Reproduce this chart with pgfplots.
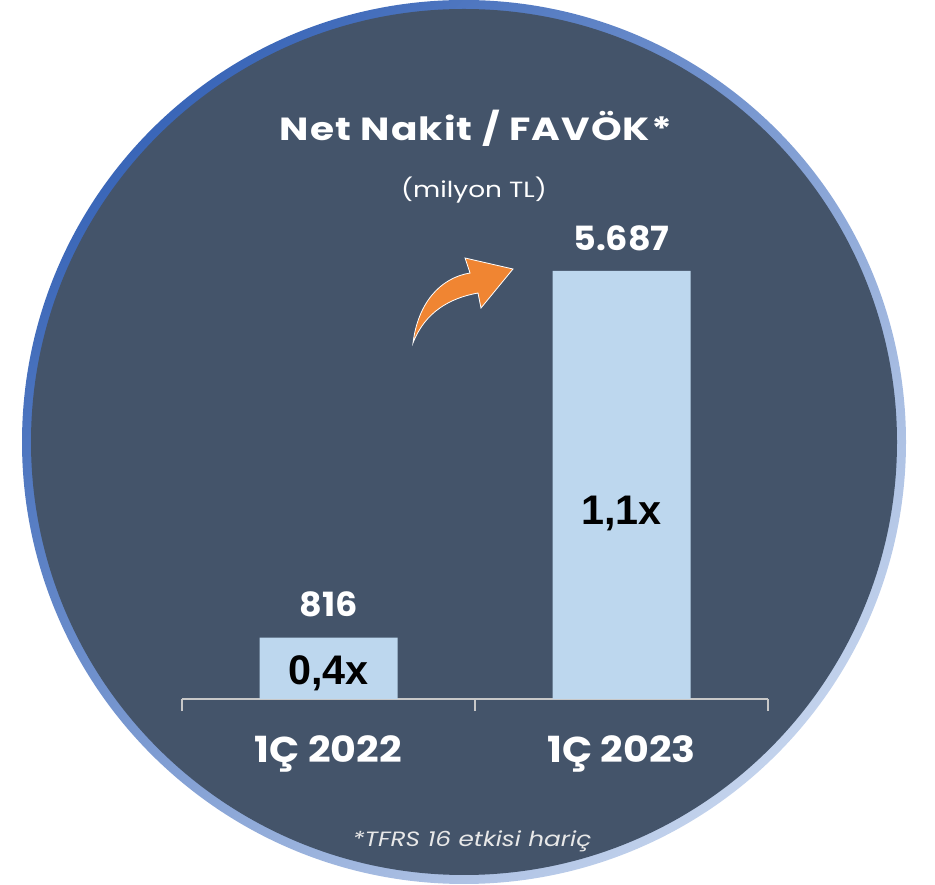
\documentclass[border=0pt]{standalone}
\usepackage{pgfplots}
\pgfplotsset{compat=1.18}
\usepackage{fontspec}
\setmainfont{Poppins}
\newfontfamily\wideA[FakeStretch=1.2]{Poppins}
\newfontfamily\wideT[FakeStretch=1.22,LetterSpace=3.5]{Poppins}
\newfontfamily\wideB[FakeStretch=1.1]{Poppins}
\newfontfamily\wideC[FakeStretch=1.05]{Poppins}
\newfontfamily\arialf{Liberation Sans}
\definecolor{circfill}{HTML}{44546A}
\definecolor{barcol}{HTML}{BDD7EE}
\definecolor{arrowcol}{HTML}{F08532}
\definecolor{ringdark}{HTML}{3A66B8}
\definecolor{ringlight}{HTML}{C2D2EC}
\definecolor{axgray}{HTML}{C8C8C8}
\definecolor{notecol}{HTML}{E8E8E8}
\begin{document}
\begin{tikzpicture}[x=0.75pt,y=0.75pt]
\useasboundingbox (0,0) rectangle (935,885);
% circle background with gradient ring
\shade[shading=axis, left color=ringdark, right color=ringlight, shading angle=45] (464,443) circle (442);
\fill[circfill] (464,443) circle (433);
% title
\node[anchor=base, text=white, font=\wideT\bfseries\fontsize{24}{24}\selectfont] at (476,744) {Net Nakit / FAVÖK*};
\node[anchor=base, text=white, font=\wideA\fontsize{16.5}{16.5}\selectfont] at (474,687) {(milyon TL)};
% footnote
\node[anchor=base, text=notecol, font=\wideA\itshape\fontsize{15.5}{15.5}\selectfont] at (472,38) {*TFRS 16 etkisi hariç};
% arrow
\filldraw[fill=arrowcol, draw=white, line width=0.6pt]
  (413,542) .. controls (418,582) and (440,607) .. (470,612)
  -- (465,627) -- (513,616) -- (481,577) -- (478,592)
  .. controls (450,587) and (425,573) .. (413,542) -- cycle;
\coordinate (axorig) at (182,186);
\begin{axis}[
  at={(axorig)}, anchor=south west,
  scale only axis,
  width=439.5pt, height=338.7pt,
  xmin=-0.5, xmax=1.5, ymin=0, ymax=6000,
  axis x line*=bottom, axis y line=none,
  x axis line style={draw=axgray, line width=1.5pt, -},
  xtick={-0.5,0.5,1.5}, xticklabels={},
  tick align=outside,
  major tick length=9pt,
  x tick style={draw=axgray, line width=1.5pt},
  extra x ticks={0,1},
  extra x tick labels={1Ç 2022,1Ç 2023},
  extra x tick style={major tick length=0pt,
    tick label style={text=white, font=\wideB\bfseries\fontsize{27}{27}\selectfont, inner sep=0pt, yshift=-27pt}},
  ybar, bar width=103.5pt,
  /pgf/number format/assume math mode=true,
  nodes near coords={\pgfmathprintnumber[1000 sep={.}]{\pgfplotspointmeta}},
  every node near coord/.append style={text=white, font=\wideC\bfseries\fontsize{25}{25}\selectfont, anchor=base, inner sep=0pt, yshift=15.5pt},
  clip=false,
]
\addplot[fill=barcol, draw=none] coordinates {(0,816) (1,5687)};
\node[anchor=base, font=\arialf\bfseries\fontsize{31}{31}\selectfont] at (axis cs:0,186) {0,4x};
\node[anchor=base, font=\arialf\bfseries\fontsize{31}{31}\selectfont] at (axis cs:1,2312) {1,1x};
\end{axis}
\end{tikzpicture}
\end{document}
